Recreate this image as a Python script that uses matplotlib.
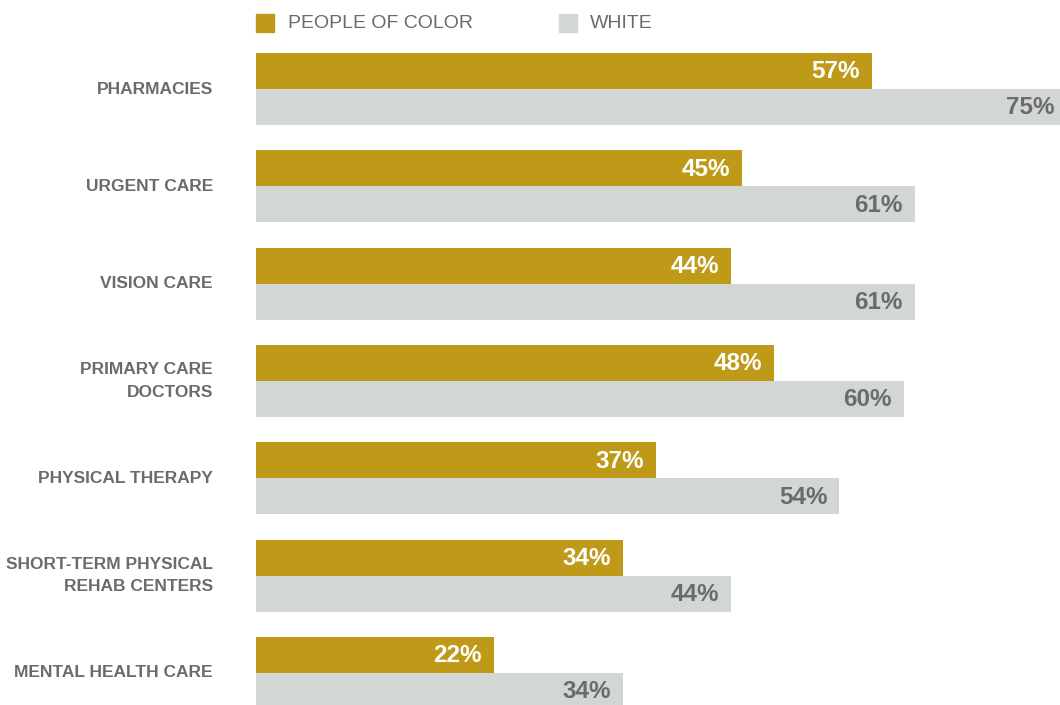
import matplotlib
matplotlib.use("Agg")
import matplotlib.pyplot as plt
from matplotlib.patches import Rectangle
import numpy as np

categories = ["PHARMACIES", "URGENT CARE", "VISION CARE", "PRIMARY CARE\nDOCTORS",
              "PHYSICAL THERAPY", "SHORT-TERM PHYSICAL\nREHAB CENTERS", "MENTAL HEALTH CARE"]
people_of_color = [57, 45, 44, 48, 37, 34, 22]
white = [75, 61, 61, 60, 54, 44, 34]
series_names = ["PEOPLE OF COLOR", "WHITE"]

GOLD = "#BE9A18"
GREY = "#D2D7D5"
TEXT = "#6B6B6B"

plt.rcParams['font.family'] = ['Liberation Sans', 'DejaVu Sans']

fig = plt.figure(figsize=(10.6, 7.05), dpi=100)
ax = fig.add_axes([256 / 1060, 0, 1 - 256 / 1060, 1])

y = np.arange(len(categories))
h = 36 / 97.3
ax.barh(y - h / 2, people_of_color, height=h, color=GOLD)
ax.barh(y + h / 2, white, height=h, color=GREY)

ax.set_xlim(0, (1060 - 256) / 10.8)
ax.set_ylim((705 - 89) / 97.3, -89 / 97.3)
ax.axis("off")

for i in range(len(categories)):
    ax.text(people_of_color[i] - 1.1, y[i] - h / 2 + 0.01, f"{people_of_color[i]}%",
            ha="right", va="center", color="white", fontsize=17.5,
            fontweight="bold")
    ax.text(white[i] - 1.1, y[i] + h / 2 + 0.01, f"{white[i]}%",
            ha="right", va="center", color=TEXT, fontsize=17.5,
            fontweight="bold")
    ax.text(-4.0, y[i], categories[i], ha="right", va="center", color=TEXT,
            fontsize=12.5, fontweight="bold", linespacing=1.65)

# legend drawn by hand at the top
W, H = 1060, 705
for x0, x_txt, color, name in [(256, 288, GOLD, series_names[0]),
                               (559, 590, GREY, series_names[1])]:
    fig.add_artist(Rectangle((x0 / W, 1 - 32 / H), 18 / W, 18 / H,
                             transform=fig.transFigure, color=color))
    fig.text(x_txt / W, 1 - 23 / H, name, ha="left", va="center",
             color=TEXT, fontsize=14)

fig.savefig("out.png", dpi=100)
